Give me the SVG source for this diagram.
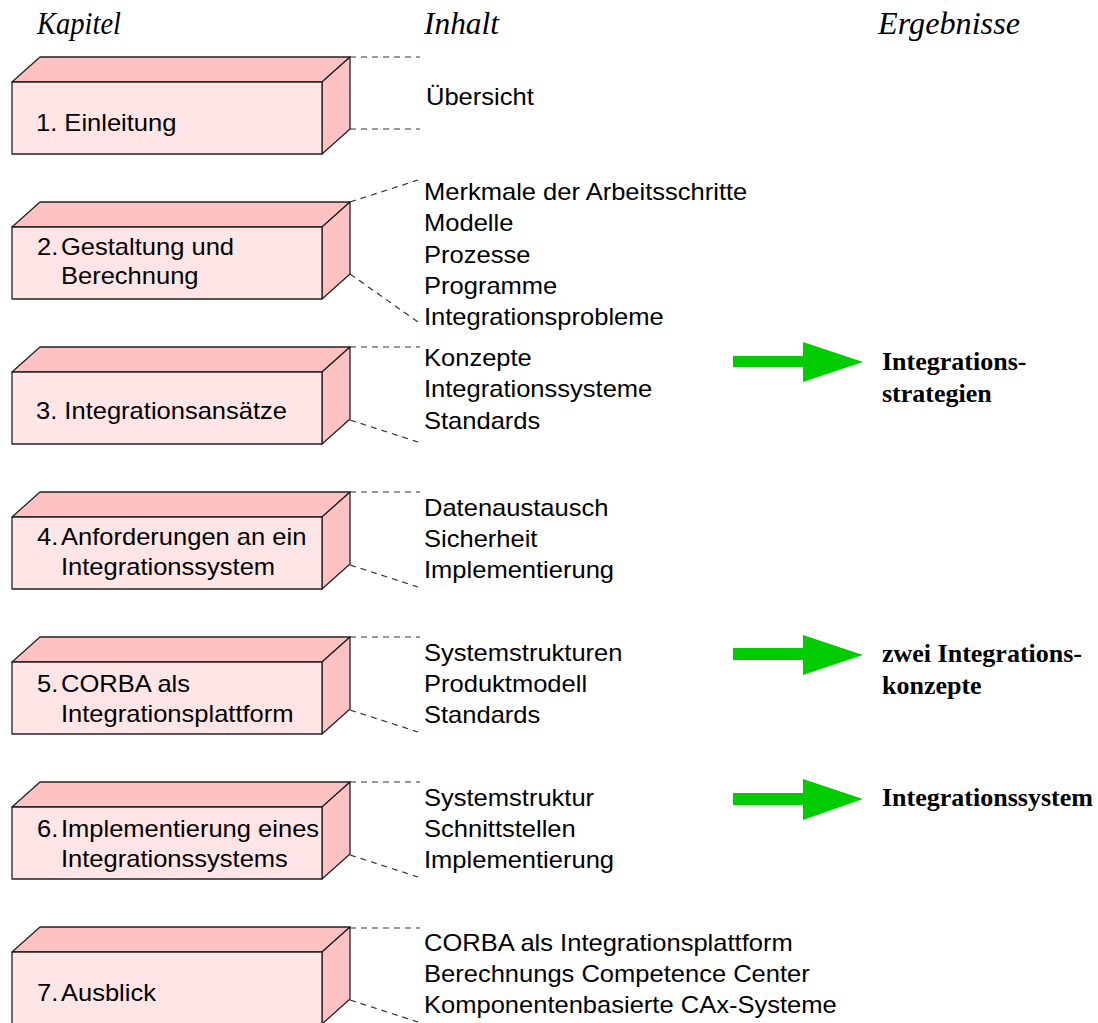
<svg xmlns="http://www.w3.org/2000/svg" width="1098" height="1023" viewBox="0 0 1098 1023">
<defs>
<style>
.front{fill:#FFE5E5;stroke:#222;stroke-width:1.3;stroke-linejoin:round}
.side{fill:#FFC2C2;stroke:#222;stroke-width:1.3;stroke-linejoin:round}
.dash{fill:none;stroke:#333;stroke-width:1.2;stroke-dasharray:6 5}
.t{font-family:"Liberation Sans",Arial,sans-serif;font-size:23px;fill:#000}
.h{font-family:"Liberation Serif","Times New Roman",serif;font-style:italic;font-size:31px;fill:#000}
.r{font-family:"Liberation Serif","Times New Roman",serif;font-weight:bold;font-size:26px;fill:#000}
.arrow{fill:#00CC00}
</style>
<g id="box">
<polygon class="side" points="12,25 40,0 350,0 322,25"/>
<polygon class="side" points="322,25 350,0 350,72 322,97"/>
<rect class="front" x="12" y="25" width="310" height="72"/>
</g>
</defs>

<g id="headers">
<text class="h" x="37" y="34" textLength="84" lengthAdjust="spacingAndGlyphs">Kapitel</text>
<text class="h" x="424" y="34" textLength="75" lengthAdjust="spacingAndGlyphs">Inhalt</text>
<text class="h" x="878" y="34" textLength="142" lengthAdjust="spacingAndGlyphs">Ergebnisse</text>
</g>

<g id="connectors">
<line class="dash" x1="350" y1="57" x2="420" y2="57"/>
<line class="dash" x1="350" y1="129" x2="420" y2="129"/>
<line class="dash" x1="350" y1="202" x2="418" y2="180"/>
<line class="dash" x1="350" y1="274" x2="418" y2="322"/>
<line class="dash" x1="350" y1="347" x2="420" y2="347"/>
<line class="dash" x1="350" y1="420" x2="418" y2="442"/>
<line class="dash" x1="350" y1="492" x2="420" y2="492"/>
<line class="dash" x1="350" y1="565" x2="418" y2="587"/>
<line class="dash" x1="350" y1="637" x2="420" y2="637"/>
<line class="dash" x1="350" y1="710" x2="418" y2="732"/>
<line class="dash" x1="350" y1="782" x2="420" y2="782"/>
<line class="dash" x1="350" y1="855" x2="418" y2="877"/>
<line class="dash" x1="350" y1="928" x2="420" y2="928"/>
<line class="dash" x1="350" y1="1000" x2="418" y2="1022"/>
<polygon class="arrow" points="733,356 803,356 803,342 863,362 803,382 803,367 733,367"/>
<polygon class="arrow" points="733,648 803,648 803,635 863,655 803,675 803,660 733,660"/>
<polygon class="arrow" points="733,793 803,793 803,779 863,799 803,820 803,805 733,805"/>
</g>

<g id="node1">
<use href="#box" transform="translate(0,57)"/>
<text class="t" transform="translate(36,131) scale(1.11,1)">1. Einleitung</text>
</g>
<g id="node2">
<use href="#box" transform="translate(0,202)"/>
<text class="t" transform="translate(37,255) scale(1.11,1)"><tspan x="0" y="0">2.</tspan><tspan x="21.6" y="0">Gestaltung und</tspan><tspan x="21.6" y="29">Berechnung</tspan></text>
</g>
<g id="node3">
<use href="#box" transform="translate(0,347)"/>
<text class="t" transform="translate(36,419) scale(1.11,1)">3. Integrationsansätze</text>
</g>
<g id="node4">
<use href="#box" transform="translate(0,492)"/>
<text class="t" transform="translate(37,545) scale(1.11,1)"><tspan x="0" y="0">4.</tspan><tspan x="21.6" y="0">Anforderungen an ein</tspan><tspan x="21.6" y="30">Integrationssystem</tspan></text>
</g>
<g id="node5">
<use href="#box" transform="translate(0,637)"/>
<text class="t" transform="translate(37,692) scale(1.11,1)"><tspan x="0" y="0">5.</tspan><tspan x="21.6" y="0">CORBA als</tspan><tspan x="21.6" y="30">Integrationsplattform</tspan></text>
</g>
<g id="node6">
<use href="#box" transform="translate(0,782)"/>
<text class="t" transform="translate(37,837) scale(1.11,1)"><tspan x="0" y="0">6.</tspan><tspan x="21.6" y="0">Implementierung eines</tspan><tspan x="21.6" y="30">Integrationssystems</tspan></text>
</g>
<g id="node7">
<use href="#box" transform="translate(0,927)"/>
<text class="t" transform="translate(37,1001) scale(1.11,1)"><tspan x="0" y="0">7.</tspan><tspan x="21.6" y="0">Ausblick</tspan></text>
</g>

<g id="content1">
<text class="t" transform="translate(426,105) scale(1.11,1)">Übersicht</text>
</g>
<g id="content2">
<text class="t" transform="translate(424,200) scale(1.11,1)"><tspan x="0" y="0">Merkmale der Arbeitsschritte</tspan><tspan x="0" y="31.3">Modelle</tspan><tspan x="0" y="62.6">Prozesse</tspan><tspan x="0" y="93.9">Programme</tspan><tspan x="0" y="125.2">Integrationsprobleme</tspan></text>
</g>
<g id="content3">
<text class="t" transform="translate(424,366) scale(1.11,1)"><tspan x="0" y="0">Konzepte</tspan><tspan x="0" y="31.5">Integrationssysteme</tspan><tspan x="0" y="63">Standards</tspan></text>
</g>
<g id="content4">
<text class="t" transform="translate(424,516) scale(1.11,1)"><tspan x="0" y="0">Datenaustausch</tspan><tspan x="0" y="31">Sicherheit</tspan><tspan x="0" y="62">Implementierung</tspan></text>
</g>
<g id="content5">
<text class="t" transform="translate(424,661) scale(1.11,1)"><tspan x="0" y="0">Systemstrukturen</tspan><tspan x="0" y="31">Produktmodell</tspan><tspan x="0" y="62">Standards</tspan></text>
</g>
<g id="content6">
<text class="t" transform="translate(424,806) scale(1.11,1)"><tspan x="0" y="0">Systemstruktur</tspan><tspan x="0" y="31">Schnittstellen</tspan><tspan x="0" y="62">Implementierung</tspan></text>
</g>
<g id="content7">
<text class="t" transform="translate(424,951) scale(1.11,1)"><tspan x="0" y="0">CORBA als Integrationsplattform</tspan><tspan x="0" y="31">Berechnungs Competence Center</tspan><tspan x="0" y="62">Komponentenbasierte CAx-Systeme</tspan></text>
</g>

<g id="result1">
<text class="r" x="882" y="370"><tspan x="882" y="370">Integrations-</tspan><tspan x="882" y="402">strategien</tspan></text>
</g>
<g id="result2">
<text class="r" x="882" y="662"><tspan x="882" y="662">zwei Integrations-</tspan><tspan x="882" y="694">konzepte</tspan></text>
</g>
<g id="result3">
<text class="r" x="882" y="806">Integrationssystem</text>
</g>
</svg>
